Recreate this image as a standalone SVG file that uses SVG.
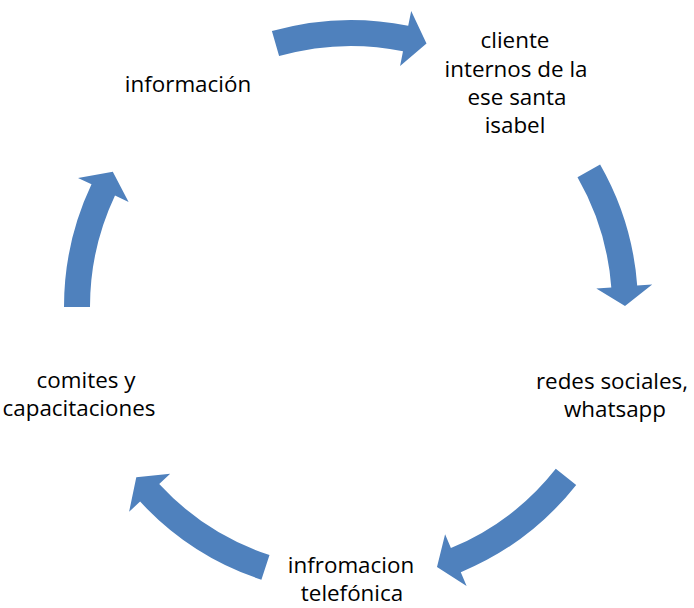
<svg xmlns="http://www.w3.org/2000/svg" width="694" height="608" viewBox="0 0 694 608">
  <style>
    .lbl { font-family: "Open Sans", "Liberation Sans", sans-serif; font-size: 22.4px; fill: #000000; text-anchor: middle; }
    .arrow { fill: #4F81BD; stroke: none; }
  </style>
  <rect x="0" y="0" width="694" height="608" fill="#FFFFFF"/>

  <!-- curved block arrows around the cycle (centre 351,307) -->
  <g id="connectors">
    <path id="arrow-1" class="arrow" d="M271.9,31.1 A287,287 0 0 1 408.2,25.8 L411.2,11.1 L426.5,43.6 L400.1,65.9 L403.0,51.2 A261,261 0 0 0 279.1,56.1 Z"/>
    <path id="arrow-2" class="arrow" d="M600.1,164.4 A287,287 0 0 1 637.2,285.5 L652.2,284.4 L625.0,306.0 L596.3,288.6 L611.3,287.4 A261,261 0 0 0 577.5,177.3 Z"/>
    <path id="arrow-3" class="arrow" d="M576.2,484.9 A287,287 0 0 1 460.8,572.2 L466.6,586.0 L437.0,567.1 L445.1,534.3 L450.9,548.1 A261,261 0 0 0 555.8,468.8 Z"/>
    <path id="arrow-4" class="arrow" d="M261.4,579.7 A287,287 0 0 1 140.1,501.6 L129.1,511.8 L136.3,477.2 L170.2,473.8 L159.2,484.0 A261,261 0 0 0 269.5,555.0 Z"/>
    <path id="arrow-5" class="arrow" d="M64,307 A287,287 0 0 1 91.5,184.3 L78.0,177.9 L112.8,171.7 L128.6,201.9 L115.0,195.4 A261,261 0 0 0 90,307 Z"/>
  </g>

  <g id="node-informacion">
    <text class="lbl" x="188" y="92">información</text>
  </g>
  <g id="node-cliente">
    <text class="lbl" x="515" y="48">cliente</text>
    <text class="lbl" x="516" y="77">internos de la</text>
    <text class="lbl" x="517" y="105">ese santa</text>
    <text class="lbl" x="515" y="133">isabel</text>
  </g>
  <g id="node-redes">
    <text class="lbl" x="612" y="389">redes sociales,</text>
    <text class="lbl" x="615" y="417">whatsapp</text>
  </g>
  <g id="node-telefonica">
    <text class="lbl" x="351" y="573.3">infromacion</text>
    <text class="lbl" x="352" y="601.3">telefónica</text>
  </g>
  <g id="node-comites">
    <text class="lbl" x="86" y="387.5">comites y</text>
    <text class="lbl" x="79" y="415.5">capacitaciones</text>
  </g>
</svg>
